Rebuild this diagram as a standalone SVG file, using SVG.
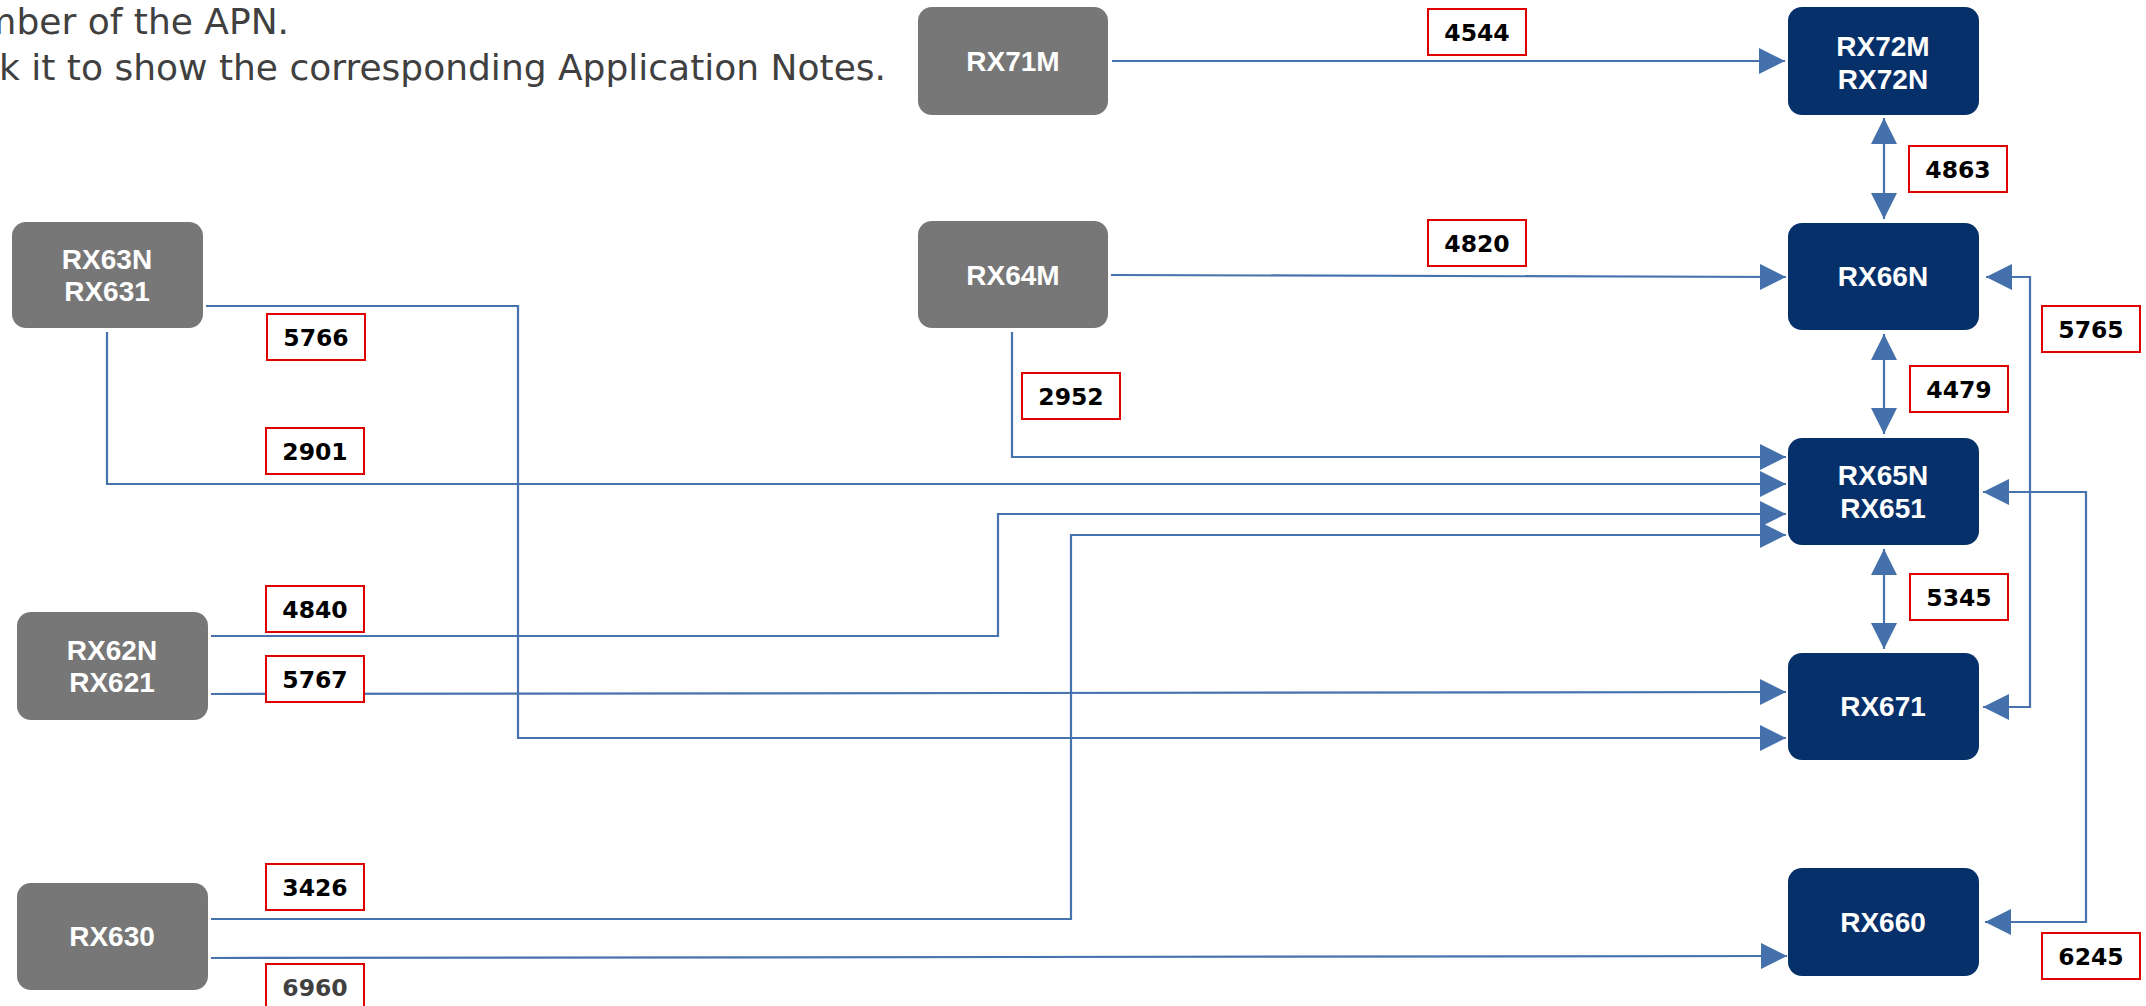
<svg xmlns="http://www.w3.org/2000/svg" width="2146" height="1006" viewBox="0 0 2146 1006">
<style>
.hdr{font-family:"DejaVu Sans","Verdana",sans-serif;font-size:36px;fill:#404040;text-anchor:end}
.g rect{fill:#777777}
.b rect{fill:#06306A}
.nt{font-family:"Liberation Sans",Arial,sans-serif;font-weight:bold;font-size:28px;fill:#ffffff;text-anchor:middle}
.lbl rect{fill:#ffffff;stroke:#E00000;stroke-width:2}
.lt{font-family:"DejaVu Sans",Verdana,sans-serif;font-weight:bold;font-size:23.5px;fill:#000000;text-anchor:middle}
.con{fill:none;stroke:#4672AE;stroke-width:2.2}
.one{marker-end:url(#ah)}
.two{marker-start:url(#ah);marker-end:url(#ah)}
</style>
<defs>
<marker id="ah" markerUnits="userSpaceOnUse" markerWidth="26" markerHeight="26" refX="26" refY="13" orient="auto-start-reverse" viewBox="0 0 26 26">
<path d="M0,0 L26,13 L0,26 Z" fill="#4470AB"/>
</marker>
</defs>
<rect width="2146" height="1006" fill="#ffffff"/>
<g id="header">
<text class="hdr" x="289" y="34">mber of the APN.</text>
<text class="hdr" x="886" y="80">k it to show the corresponding Application Notes.</text>
</g>
<g id="connectors">
<path class="con one" d="M1112,61 H1785"/>
<path class="con one" d="M1111,275 L1786,277"/>
<path class="con two" d="M1884,118 V219"/>
<path class="con two" d="M1884,334 V434"/>
<path class="con two" d="M1884,549 V649"/>
<path class="con one" d="M1012,332 V457 H1786"/>
<path class="con one" d="M107,332 V484 H1786"/>
<path class="con one" d="M206,306 H518 V738 H1786"/>
<path class="con one" d="M211,636 H998 V514 H1786"/>
<path class="con one" d="M211,919 H1071 V535 H1786"/>
<path class="con one" d="M211,694 L1786,692"/>
<path class="con one" d="M211,958 L1787,956"/>
<path class="con two" d="M1986,277 H2030 V707 H1983"/>
<path class="con two" d="M1983,492 H2086 V922 H1985"/>
</g>
<g id="RX71M" class="g"><rect x="918" y="7" width="190" height="108" rx="14"/><text class="nt" x="1013" y="71">RX71M</text></g>
<g id="RX64M" class="g"><rect x="918" y="221" width="190" height="107" rx="14"/><text class="nt" x="1013" y="285">RX64M</text></g>
<g id="RX63N" class="g"><rect x="12" y="222" width="191" height="106" rx="14"/><text class="nt" x="107" y="269">RX63N</text><text class="nt" x="107" y="301">RX631</text></g>
<g id="RX62N" class="g"><rect x="17" y="612" width="191" height="108" rx="14"/><text class="nt" x="112" y="660">RX62N</text><text class="nt" x="112" y="692">RX621</text></g>
<g id="RX630" class="g"><rect x="17" y="883" width="191" height="107" rx="14"/><text class="nt" x="112" y="946">RX630</text></g>
<g id="RX72M" class="b"><rect x="1788" y="7" width="191" height="108" rx="14"/><text class="nt" x="1883" y="56">RX72M</text><text class="nt" x="1883" y="89">RX72N</text></g>
<g id="RX66N" class="b"><rect x="1788" y="223" width="191" height="107" rx="14"/><text class="nt" x="1883" y="286">RX66N</text></g>
<g id="RX65N" class="b"><rect x="1788" y="438" width="191" height="107" rx="14"/><text class="nt" x="1883" y="485">RX65N</text><text class="nt" x="1883" y="518">RX651</text></g>
<g id="RX671" class="b"><rect x="1788" y="653" width="191" height="107" rx="14"/><text class="nt" x="1883" y="716">RX671</text></g>
<g id="RX660" class="b"><rect x="1788" y="868" width="191" height="108" rx="14"/><text class="nt" x="1883" y="932">RX660</text></g>
<g id="labels">
<g id="L4544" class="lbl"><rect x="1428" y="9" width="98" height="46"/><text class="lt" x="1477" y="40.5">4544</text></g>
<g id="L4820" class="lbl"><rect x="1428" y="220" width="98" height="46"/><text class="lt" x="1477" y="251.5">4820</text></g>
<g id="L4863" class="lbl"><rect x="1909" y="146" width="98" height="46"/><text class="lt" x="1958" y="177.5">4863</text></g>
<g id="L4479" class="lbl"><rect x="1910" y="366" width="98" height="46"/><text class="lt" x="1959" y="397.5">4479</text></g>
<g id="L5345" class="lbl"><rect x="1910" y="574" width="98" height="46"/><text class="lt" x="1959" y="605.5">5345</text></g>
<g id="L5765" class="lbl"><rect x="2042" y="306" width="98" height="46"/><text class="lt" x="2091" y="337.5">5765</text></g>
<g id="L6245" class="lbl"><rect x="2042" y="933" width="98" height="46"/><text class="lt" x="2091" y="964.5">6245</text></g>
<g id="L5766" class="lbl"><rect x="267" y="314" width="98" height="46"/><text class="lt" x="316" y="345.5">5766</text></g>
<g id="L2901" class="lbl"><rect x="266" y="428" width="98" height="46"/><text class="lt" x="315" y="459.5">2901</text></g>
<g id="L2952" class="lbl"><rect x="1022" y="373" width="98" height="46"/><text class="lt" x="1071" y="404.5">2952</text></g>
<g id="L4840" class="lbl"><rect x="266" y="586" width="98" height="46"/><text class="lt" x="315" y="617.5">4840</text></g>
<g id="L5767" class="lbl"><rect x="266" y="656" width="98" height="46"/><text class="lt" x="315" y="687.5">5767</text></g>
<g id="L3426" class="lbl"><rect x="266" y="864" width="98" height="46"/><text class="lt" x="315" y="895.5">3426</text></g>
<g id="L6960" class="lbl"><rect x="266" y="964" width="98" height="46"/><text class="lt" x="315" y="995.5" style="fill:#404040">6960</text></g>
</g>
</svg>
